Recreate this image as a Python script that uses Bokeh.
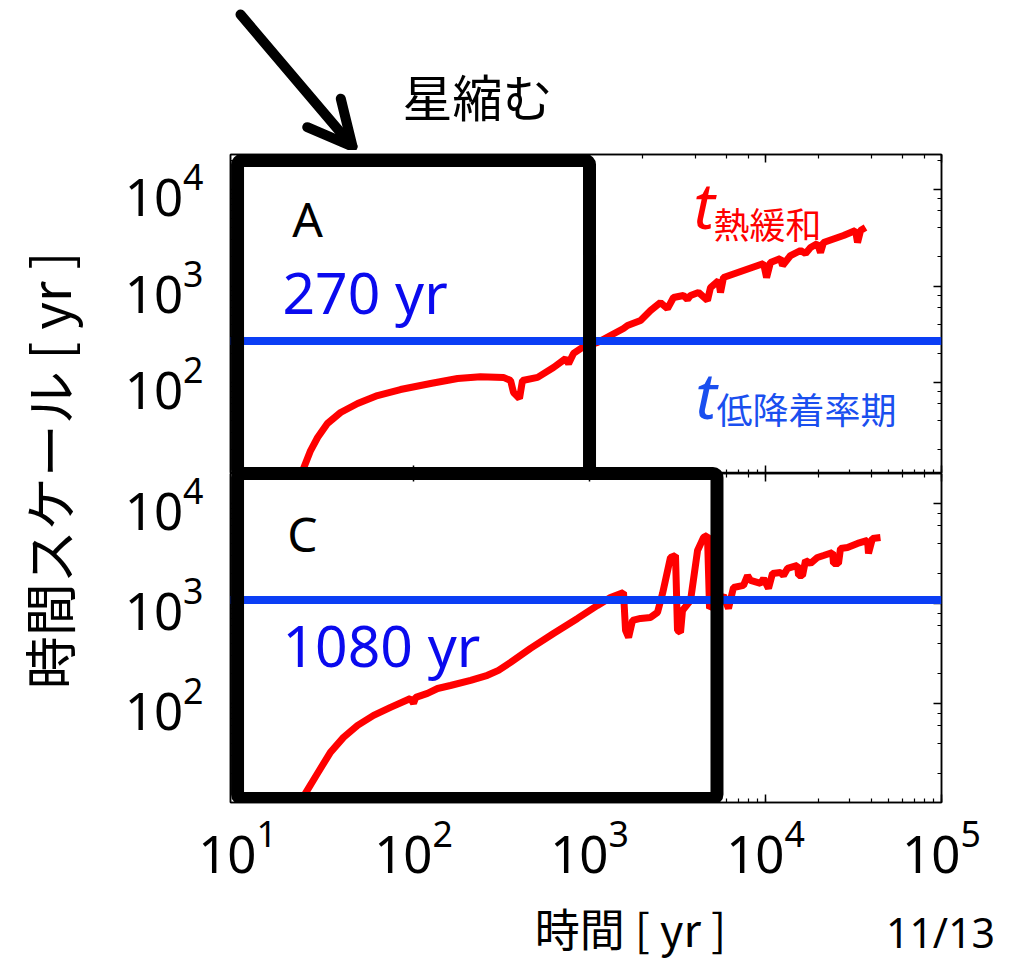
import math
from bokeh.plotting import figure
from bokeh.models import (LogAxis, Span, Label, BoxAnnotation, Arrow, OpenHead, Range1d,
                          CustomJSTickFormatter)
from bokeh.layouts import row, column
from bokeh.embed import file_html
from bokeh.resources import INLINE

# ---------------- data ----------------
x_lim = (9.12, 1e5)             # time axis [yr]
y_lim_A = (11.4, 23070)         # time-scale axis, panel A [yr]
y_lim_C = (10.2, 19950)         # time-scale axis, panel C [yr]

# panel A : thermal relaxation time vs time
t_A = [22.5, 26.0, 28.5, 32.4, 38.5, 48.1, 62.4, 84.3, 125, 178, 240, 324, 356, 370, 400,
       416, 507, 624, 731, 760, 811, 912, 1110, 1315, 1560, 1644, 1950, 2222, 2530, 2773,
       3000, 3420, 3604, 3750, 4160, 4680, 4870, 5410, 5550, 5770, 7500, 9750, 10140,
       10670, 12160, 12500, 13870, 15800, 16880, 18030, 19740, 20540, 21360, 27750,
       32460, 33330, 34660, 36990]
tau_A = [10.1, 19.7, 26.9, 37.6, 48.9, 60.6, 73.3, 84.6, 97.6, 110, 115, 113, 105, 78.8, 68.2,
         105, 113, 143, 177, 157, 200, 231, 260, 307, 363, 390, 439, 557, 674, 584,
         760, 798, 725, 798, 857, 708, 964, 1140, 857, 1224, 1448, 1711, 1224,
         1753, 1928, 1631, 2070, 2333, 2171, 2506, 2756, 2222, 2823, 3337,
         3758, 2823, 3758, 4036]

# panel C
t_C = [23.1, 24.3, 28.5, 33.7, 40.0, 48.1, 59.3, 74.0, 96.1, 100, 103, 120, 137, 162, 211,
       263, 304, 356, 462, 624, 855, 1110, 1315, 1560, 1602, 1667, 1755, 1950, 2222, 2434,
       2600, 2884, 3080, 3162, 3289, 3375, 3750, 4110, 4446, 4680, 4808, 5770, 6160, 6577,
       7500, 7907, 8222, 9376, 9750, 10400, 10960, 12160, 12650, 13330, 15200, 15410,
       16230, 16880, 18030, 19740, 21360, 24040, 24340, 25980, 26670, 29240, 33330,
       38020, 38470, 40530, 45000]
tau_C = [10.0, 12.6, 20.0, 32.4, 45.7, 60.3, 75.9, 91.2, 112, 100, 115, 126, 141, 151, 170,
         191, 214, 257, 355, 501, 708, 955, 1148, 1288, 537, 457, 676, 708, 724, 813,
         1259, 2884, 3020, 537, 513, 851, 1072, 3388, 4571, 4786, 891, 1202, 891, 1445,
         1514, 1905, 1698, 1585, 1778, 1413, 1995, 2042, 1905, 2239, 2399, 1905,
         1905, 2692, 2512, 2884, 3020, 3236, 2512, 2512, 3548, 3631, 3981,
         4266, 3162, 4467, 4571]

accretion_A = 270     # yr
accretion_C = 1080    # yr

# highlighted windows (time span, time-scale span)
box_left = 10
box_A_right = 1000
box_C_right = 5300
box_top = 19950
box_C_bottom = 11.2

# ---------------- style ----------------
FONT = "Noto Sans"
JFONT = "Noto Sans CJK JP"
RED = "#FF0000"
BLUE_LINE = "#0B3EF5"
BLUE_TEXT = "#0A0AEE"
BLUE_T = "#1A4FEF"
BOX_W = 13
TOTAL_W = 1004
LEFT_W = 92
HEAD_H = 150
TOP_H = 323
BOTTOM_H = 329 + 92
FOOT_H = 960 - HEAD_H - TOP_H - BOTTOM_H


def style_axis(ax, labels):
    ax.major_tick_in = 8
    ax.major_tick_out = 0
    ax.minor_tick_in = 4
    ax.minor_tick_out = 0
    ax.axis_line_color = "black"
    ax.axis_line_width = 1.5
    ax.major_tick_line_color = "black"
    ax.major_tick_line_width = 1.5
    ax.minor_tick_line_color = "black"
    ax.minor_tick_line_width = 1.2
    if labels:
        ax.major_label_text_font = FONT
        ax.major_label_text_font_size = "51px"
        ax.major_label_text_color = "black"
    else:
        ax.formatter = CustomJSTickFormatter(code="return ''")
        ax.major_label_text_font_size = "1px"
        ax.major_label_standoff = 0


def make_panel(height, y_lim, border_top, border_bottom, x_labels):
    p = figure(width=TOTAL_W - LEFT_W, height=height, x_axis_type="log", y_axis_type="log",
               x_range=Range1d(*x_lim), y_range=Range1d(*y_lim),
               toolbar_location=None, output_backend="svg",
               min_border_left=230 - LEFT_W, min_border_right=63,
               min_border_top=border_top, min_border_bottom=border_bottom)
    p.grid.visible = False
    p.outline_line_color = "black"
    p.outline_line_width = 1.5
    p.background_fill_color = "white"
    p.border_fill_color = "white"
    style_axis(p.yaxis[0], True)
    p.yaxis[0].major_label_standoff = 27
    style_axis(p.xaxis[0], x_labels)
    if x_labels:
        p.xaxis[0].major_label_standoff = 17
    top_ax = LogAxis()
    style_axis(top_ax, False)
    p.add_layout(top_ax, "above")
    right_ax = LogAxis()
    style_axis(right_ax, False)
    p.add_layout(right_ax, "right")
    return p


def box(left, right, bottom, top):
    return BoxAnnotation(left=left, right=right, bottom=bottom, top=top,
                         fill_alpha=0, line_color="black", line_alpha=1.0,
                         line_width=BOX_W, line_join="round", border_radius=4)


def pixel_strip(width, height):
    s = figure(width=width, height=height, x_range=Range1d(0, width),
               y_range=Range1d(height, 0), toolbar_location=None, output_backend="svg",
               min_border=0, x_axis_location=None, y_axis_location=None)
    s.grid.visible = False
    s.outline_line_color = None
    s.background_fill_color = "white"
    s.border_fill_color = "white"
    return s


# ---------------- top strip: "星縮む" and arrow ----------------
head = pixel_strip(TOTAL_W, HEAD_H)
head.add_layout(Label(x=477, y=94, text="星縮む", text_font=JFONT, text_font_size="50px",
                      text_align="center", text_baseline="middle", text_color="black"))
head.add_layout(Arrow(end=OpenHead(size=44, line_width=10, line_color="black",
                                   line_cap="round", line_join="round"),
                      x_start=240, y_start=14, x_end=352, y_end=146,
                      line_width=10, line_color="black", line_cap="round"))

# ---------------- panel A ----------------
top = make_panel(TOP_H, y_lim_A, 4, 0, False)
top.line(t_A, tau_A, line_color=RED, line_width=7)
top.add_layout(Span(location=accretion_A, dimension="width", line_color=BLUE_LINE, line_width=8))
top.add_layout(box(box_left, box_A_right, y_lim_A[0], box_top))
top.add_layout(box(box_left, box_C_right, 1.0, y_lim_A[0]))

top.add_layout(Label(x=25, y=5000, text="A", text_font=FONT, text_font_size="48px",
                     text_align="center", text_baseline="middle", text_color="black"))
top.add_layout(Label(x=18, y=870, text="270 yr", text_font=FONT, text_font_size="57px",
                     text_align="left", text_baseline="middle", text_color=BLUE_TEXT))
top.add_layout(Label(x=3900, y=7000, text="t", text_font=FONT, text_font_size="64px",
                     text_font_style="italic", text_align="left", text_baseline="middle",
                     text_color=RED))
top.add_layout(Label(x=5070, y=4550, text="熱緩和", text_font=JFONT, text_font_size="36px",
                     text_align="left", text_baseline="middle", text_color=RED))
top.add_layout(Label(x=4000, y=76, text="t", text_font=FONT, text_font_size="64px",
                     text_font_style="italic", text_align="left", text_baseline="middle",
                     text_color=BLUE_T))
top.add_layout(Label(x=5270, y=55, text="低降着率期", text_font=JFONT, text_font_size="36px",
                     text_align="left", text_baseline="middle", text_color=BLUE_T))

# ---------------- panel C ----------------
bottom = make_panel(BOTTOM_H, y_lim_C, 0, 92, True)
bottom.line(t_C, tau_C, line_color=RED, line_width=7)
bottom.add_layout(Span(location=accretion_C, dimension="width", line_color=BLUE_LINE, line_width=8))
bottom.add_layout(box(box_left, box_C_right, box_C_bottom, box_top))
bottom.add_layout(box(box_left, box_A_right, box_top, 1e7))

bottom.add_layout(Label(x=23.4, y=5000, text="C", text_font=FONT, text_font_size="48px",
                        text_align="center", text_baseline="middle", text_color="black"))
bottom.add_layout(Label(x=18, y=380, text="1080 yr", text_font=FONT, text_font_size="57px",
                        text_align="left", text_baseline="middle", text_color=BLUE_TEXT))

# ---------------- y-axis title strip ----------------
left = pixel_strip(LEFT_W, TOP_H + BOTTOM_H)
left.add_layout(Label(x=47, y=470 - HEAD_H, text="時間スケール [ yr ]", angle=math.pi / 2,
                      text_font=JFONT, text_font_size="53px", text_align="center",
                      text_baseline="middle", text_color="black"))

# ---------------- bottom strip: x-axis title and page number ----------------
foot = pixel_strip(TOTAL_W, FOOT_H)
foot.add_layout(Label(x=630, y=FOOT_H / 2, text="時間 [ yr ]", text_font=JFONT,
                      text_font_size="45px", text_align="center", text_baseline="middle",
                      text_color="black"))
foot.add_layout(Label(x=940, y=FOOT_H - 29, text="11/13", text_font=FONT, text_font_size="41px",
                      text_align="center", text_baseline="middle", text_color="black"))

layout = column(head, row(left, column(top, bottom)), foot)
open("out.html", "w").write(file_html(layout, INLINE))
